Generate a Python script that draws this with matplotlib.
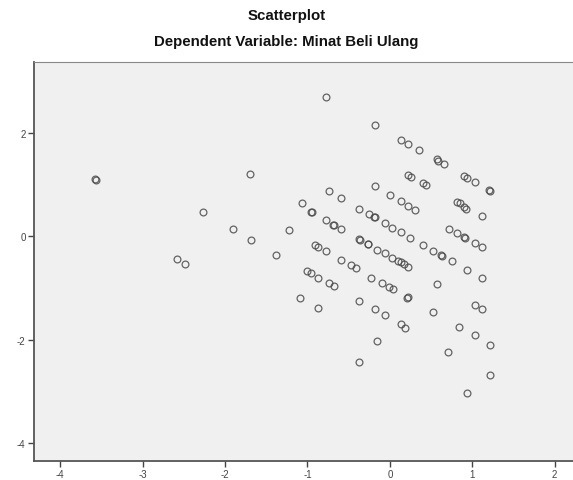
import matplotlib
matplotlib.use("Agg")
import matplotlib.pyplot as plt

plt.rcParams['font.family'] = ['Liberation Sans', 'DejaVu Sans']

title = "Scatterplot"
subtitle = "Dependent Variable: Minat Beli Ulang"

x_vals = [
    -3.58, -3.57, -2.59, -2.49, -2.27, -1.90, -1.70, -1.68, -1.38, -1.22,
    -1.07, -0.96, -0.95, -0.78, -0.74, -0.59, -0.18, -0.18, 0.00, -0.37,
    -0.25, -0.18, -0.19, -0.78, -0.69, -0.68, -0.59, -0.06, 0.03, 0.13,
    0.13, 0.22, 0.35, 0.57, 0.59, 0.66, 0.22, 0.26, 0.40, 0.44,
    0.90, 0.94, 1.03, 1.21, 1.20, 0.13, 0.22, 0.31, 0.81, 0.85,
    0.90, 0.93, 1.12, 0.72, 0.81, 0.90, 0.91, 1.03, 1.12, 0.25,
    0.40, 0.53, 0.62, 0.63, 0.75, -0.37, -0.36, -0.27, -0.26, -0.15,
    -0.06, 0.03, 0.10, 0.13, 0.17, 0.22, -0.91, -0.87, -0.78, -0.59,
    -0.47, -0.41, -0.23, -0.10, -0.01, 0.04, 0.22, 0.21, -1.00, -0.96,
    -0.87, -0.74, -0.68, -1.09, -0.87, -0.37, -0.18, -0.06, 0.13, 0.18,
    -0.15, -0.37, 0.94, 1.12, 0.57, 0.53, 1.03, 1.12, 0.84, 1.03,
    1.21, 0.71, 1.21, 0.94,
]
y_vals = [
    1.11, 1.10, -0.44, -0.54, 0.48, 0.14, 1.21, -0.07, -0.36, 0.13,
    0.64, 0.48, 0.47, 2.70, 0.88, 0.74, 2.16, 0.97, 0.80, 0.54,
    0.43, 0.37, 0.38, 0.32, 0.23, 0.22, 0.14, 0.26, 0.17, 0.09,
    1.88, 1.79, 1.68, 1.50, 1.47, 1.41, 1.20, 1.16, 1.03, 1.00,
    1.18, 1.14, 1.06, 0.89, 0.90, 0.68, 0.60, 0.52, 0.66, 0.64,
    0.57, 0.54, 0.39, 0.15, 0.07, -0.02, -0.03, -0.13, -0.21, -0.03,
    -0.17, -0.29, -0.36, -0.37, -0.48, -0.05, -0.06, -0.14, -0.15, -0.26,
    -0.33, -0.42, -0.48, -0.50, -0.54, -0.60, -0.17, -0.20, -0.29, -0.45,
    -0.56, -0.62, -0.80, -0.91, -0.98, -1.02, -1.18, -1.19, -0.67, -0.71,
    -0.80, -0.91, -0.97, -1.20, -1.39, -1.25, -1.41, -1.53, -1.70, -1.77,
    -2.03, -2.44, -0.65, -0.81, -0.92, -1.47, -1.33, -1.41, -1.76, -1.92,
    -2.10, -2.24, -2.69, -3.04,
]

x_ticks = [-4, -3, -2, -1, 0, 1, 2]
y_ticks = [-4, -2, 0, 2]

W, H = 573, 481
fig = plt.figure(figsize=(W / 100, H / 100), dpi=100)
ax = fig.add_axes([34 / W, (H - 461.7) / H, (576 - 34) / W, (461.7 - 62.7) / H])
ax.set_facecolor('#f0f0f0')

ax.plot(x_vals, y_vals, linestyle='none', marker='o', ms=4.9, mfc='none',
        mec='#4a4a4a', mew=0.9, alpha=0.85)

ax.set_xlim(-4.32, 2.26)
ax.set_ylim(-4.35, 3.39)
ax.set_xticks(x_ticks)
ax.set_yticks(y_ticks)
ax.set_xticklabels([str(v) for v in x_ticks])
ax.set_yticklabels([str(v) for v in y_ticks])
ax.tick_params(axis='both', labelsize=7, colors='#444444', length=4, width=1.0, pad=2)

for side in ['left', 'bottom']:
    ax.spines[side].set_color('#555555')
    ax.spines[side].set_linewidth(1.3)
ax.spines['top'].set_color('#888888')
ax.spines['top'].set_linewidth(0.8)
ax.spines['right'].set_visible(False)

fig.text(0.5, 1 - 16 / H, title, ha='center', va='center', fontsize=10.8,
         fontweight='bold', color='#111111')
fig.text(0.5, 1 - 42 / H, subtitle, ha='center', va='center', fontsize=10.8,
         fontweight='bold', color='#111111')

fig.savefig('out.png', dpi=100)
